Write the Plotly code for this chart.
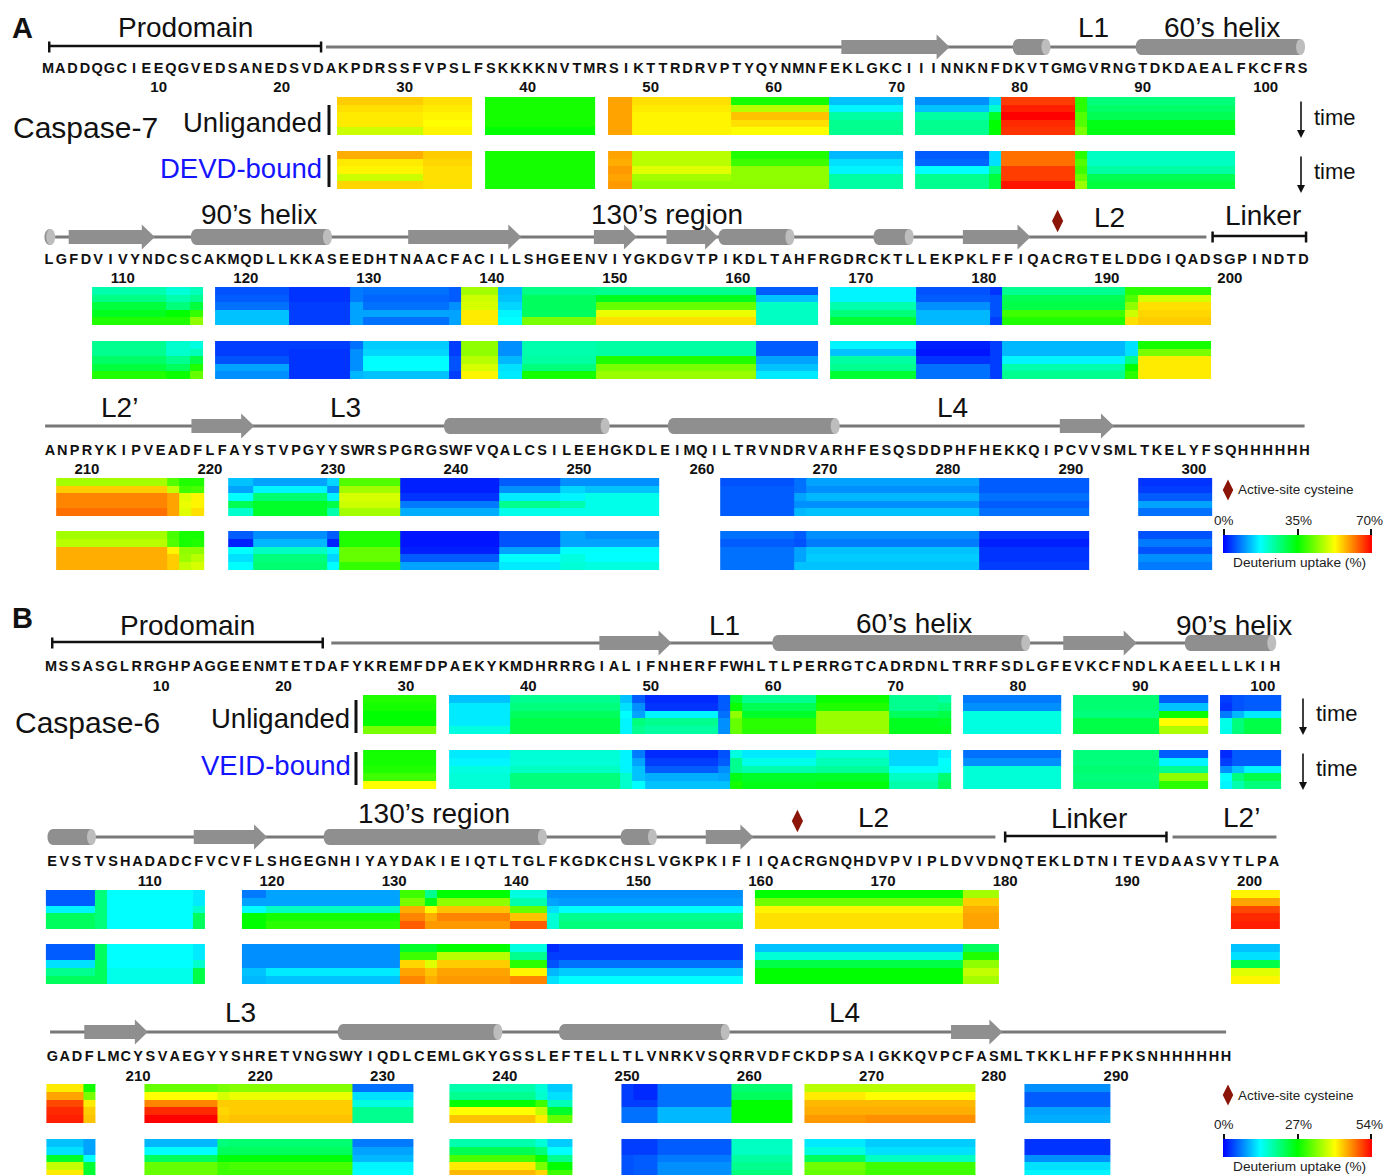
import plotly.graph_objects as go

W, H = 1384, 1175

# ---- Sequences (each row of the figure) ----
A1_SEQ = "MADDQGCIEEQGVEDSANEDSVDAKPDRSSFVPSLFSKKKKNVTMRSIKTTRDRVPTYQYNMNFEKLGKCIIINNKNFDKVTGMGVRNGTDKDAEALFKCFRS"
A2_SEQ = "LGFDVIVYNDCSCAKMQDLLKKASEEDHTNAACFACILLSHGEENVIYGKDGVTPIKDLTAHFRGDRCKTLLEKPKLFFIQACRGTELDDGIQADSGPINDTD"
A3_SEQ = "ANPRYKIPVEADFLFAYSTVPGYYSWRSPGRGSWFVQALCSILEEHGKDLEIMQILTRVNDRVARHFESQSDDPHFHEKKQIPCVVSMLTKELYFSQHHHHHH"
B1_SEQ = "MSSASGLRRGHPAGGEENMTETDAFYKREMFDPAEKYKMDHRRRGIALIFNHERFFWHLTLPERRGTCADRDNLTRRFSDLGFEVKCFNDLKAEELLLKIH"
B2_SEQ = "EVSTVSHADADCFVCVFLSHGEGNHIYAYDAKIEIQTLTGLFKGDKCHSLVGKPKIFIIQACRGNQHDVPVIPLDVVDNQTEKLDTNITEVDAASVYTLPA"
B3_SEQ = "GADFLMCYSVAEGYYSHRETVNGSWYIQDLCEMLGKYGSSLEFTELLTLVNRKVSQRRVDFCKDPSAIGKKQVPCFASMLTKKLHFFPKSNHHHHHH"

# ---- Residue tick labels ----
A1_TICKS = [10, 20, 30, 40, 50, 60, 70, 80, 90, 100]
A2_TICKS = [110, 120, 130, 140, 150, 160, 170, 180, 190, 200]
A3_TICKS = [210, 220, 230, 240, 250, 260, 270, 280, 290, 300]
B1_TICKS = [10, 20, 30, 40, 50, 60, 70, 80, 90, 100]
B2_TICKS = [110, 120, 130, 140, 150, 160, 170, 180, 190, 200]
B3_TICKS = [210, 220, 230, 240, 250, 260, 270, 280, 290]

# ---- Secondary structure (residue ranges) ----
A1_LINES = [(23.6, 89.5)]
A1_STRANDS = [(65.5, 74.3)]
A1_HELICES = [(79.4, 82.5), (89.4, 103.2)]
A2_LINES = [(104.5, 198.1)]
A2_STRANDS = [(105.6, 112.6), (133.2, 142.4), (148.3, 151.8), (154.2, 158.4), (178.3, 183.8)]
A2_HELICES = [(103.6, 104.5), (115.5, 127.0), (158.4, 164.6), (171.0, 174.3)]
A3_LINES = [(206.6, 309.0)]
A3_STRANDS = [(218.5, 223.6), (289.1, 293.5)]
A3_HELICES = [(239.0, 252.5), (257.2, 271.2)]
B1_LINES = [(23.9, 95.0)]
B1_STRANDS = [(45.8, 51.7), (83.7, 89.7)]
B1_HELICES = [(59.9, 81.0), (93.6, 101.1)]
B2_LINES = [(104.0, 179.2), (193.7, 202.2)]
B2_STRANDS = [(113.6, 119.6), (155.5, 159.4)]
B2_HELICES = [(101.6, 105.6), (124.2, 142.5), (148.5, 151.5)]
B3_LINES = [(202.8, 299.0)]
B3_STRANDS = [(205.6, 210.8), (276.5, 280.7)]
B3_HELICES = [(226.3, 239.8), (244.4, 258.4)]

A1_BRACKETS = [(1.1, 23.2)]
A2_BRACKETS = [(198.6, 206.2)]
A3_BRACKETS = []
B1_BRACKETS = [(1.1, 23.2)]
B2_BRACKETS = [(180.0, 193.2)]
B3_BRACKETS = []
A2_CYS = [186]
B2_CYS = [163]

# ---- Deuterium uptake, as % of the panel's scale maximum ----
# Peptide boundaries (residues); each inner list is one contiguous block.
A1_EDGES = [[24.5, 31.5, 35.5], [36.5, 45.5], [46.5, 48.5, 56.5, 64.5, 70.5],
            [71.5, 77.5, 78.5, 84.5, 85.5, 97.5]]
A1_UNLIGANDED = [
    [80, 78, 52, 84, 78, 52, 19, 14, 21, 94, 54, 38],
    [78, 77, 52, 84, 77, 68, 24, 19, 30, 97, 54, 40],
    [77, 76, 52, 84, 76, 81, 34, 34, 46, 100, 58, 42],
    [77, 75, 52, 84, 76, 78, 36, 36, 50, 96, 58, 48],
    [70, 76, 50, 84, 76, 75, 36, 36, 50, 95, 62, 48],
]
A1_DEVD = [
    [83, 80, 52, 84, 68, 53, 18, 9, 22, 89, 54, 31],
    [77, 79, 52, 83, 68, 56, 22, 10, 22, 89, 58, 31],
    [76, 78, 52, 85, 72, 64, 24, 25, 36, 94, 56, 34],
    [70, 78, 52, 84, 66, 64, 34, 36, 44, 94, 60, 42],
    [79, 78, 52, 85, 64, 64, 34, 36, 44, 98, 65, 44],
]
A2_EDGES = [[107.5, 113.5, 115.5, 116.5],
            [117.5, 123.5, 128.5, 129.5, 136.5, 137.5, 140.5, 142.5, 148.5, 161.5, 166.5],
            [167.5, 174.5, 180.5, 181.5, 191.5, 192.5, 198.5]]
A2_UNLIGANDED = [
    [33, 29, 32, 8, 5, 12, 11, 9, 66, 18, 37, 36, 9, 24, 8, 5, 36, 54, 54],
    [37, 33, 36, 9, 5, 12, 10, 9, 70, 19, 41, 47, 19, 24, 9, 8, 42, 58, 71],
    [44, 38, 44, 11, 6, 16, 11, 14, 71, 21, 41, 60, 31, 33, 14, 8, 43, 64, 78],
    [47, 50, 55, 19, 6, 16, 16, 16, 77, 24, 41, 73, 31, 38, 18, 8, 56, 70, 79],
    [53, 53, 64, 19, 6, 16, 11, 16, 77, 25, 62, 78, 31, 45, 18, 6, 53, 78, 80],
]
A2_DEVD = [
    [36, 30, 28, 6, 6, 11, 20, 6, 64, 14, 33, 34, 9, 24, 3, 6, 18, 22, 52],
    [36, 30, 32, 6, 5, 14, 21, 6, 64, 14, 33, 34, 9, 19, 2, 6, 18, 22, 62],
    [40, 36, 43, 8, 5, 14, 25, 8, 68, 18, 34, 53, 16, 34, 5, 6, 24, 37, 77],
    [44, 41, 53, 16, 5, 14, 25, 8, 71, 22, 38, 62, 19, 36, 11, 6, 33, 50, 77],
    [53, 51, 60, 14, 5, 18, 19, 6, 76, 23, 52, 65, 23, 45, 11, 6, 36, 54, 77],
]
A3_EDGES = [[207.5, 216.5, 217.5, 218.5, 219.5],
            [221.5, 223.5, 229.5, 230.5, 235.5, 243.5, 248.5, 250.5, 256.5],
            [261.5, 267.5, 268.5, 282.5, 291.5], [295.5, 301.5]]
A3_UNLIGANDED = [
    [66, 58, 53, 53, 19, 16, 21, 58, 3, 9, 14, 14, 8, 11, 16, 9, 5],
    [80, 69, 56, 57, 16, 24, 14, 66, 3, 14, 21, 19, 9, 11, 14, 9, 6],
    [87, 84, 72, 76, 25, 39, 24, 71, 5, 23, 24, 27, 9, 16, 18, 11, 9],
    [87, 84, 73, 76, 42, 46, 43, 70, 12, 36, 33, 27, 9, 14, 14, 9, 16],
    [89, 84, 72, 78, 30, 46, 33, 66, 17, 27, 27, 27, 9, 18, 19, 11, 11],
]
A3_DEVD = [
    [66, 57, 52, 52, 9, 14, 9, 53, 2, 8, 16, 14, 11, 9, 14, 5, 8],
    [68, 58, 52, 53, 3, 18, 3, 53, 2, 8, 16, 16, 9, 8, 12, 3, 12],
    [83, 76, 64, 64, 25, 31, 24, 60, 3, 16, 25, 25, 11, 16, 19, 5, 8],
    [83, 80, 65, 68, 22, 38, 21, 60, 9, 25, 28, 25, 11, 16, 20, 5, 14],
    [83, 80, 69, 71, 25, 39, 25, 55, 16, 23, 29, 28, 11, 19, 19, 6, 12],
]
B1_EDGES = [[26.5, 32.5],
            [33.5, 38.5, 47.5, 48.5, 49.5, 55.5, 56.5, 57.5, 63.5, 69.5, 73.5, 74.5],
            [75.5, 83.5], [84.5, 91.5, 95.5], [96.5, 97.5, 98.5, 101.5]]
B1_UNLIGANDED = [
    [53, 19, 36, 19, 9, 4, 9, 45, 36, 51, 36, 34, 12, 39, 9, 6, 8, 9],
    [52, 23, 38, 22, 14, 5, 9, 51, 42, 53, 36, 38, 14, 39, 19, 5, 8, 9],
    [50, 23, 41, 25, 16, 24, 11, 64, 46, 65, 41, 43, 28, 38, 51, 12, 18, 23],
    [50, 23, 43, 24, 38, 36, 14, 60, 54, 65, 47, 46, 28, 43, 75, 27, 38, 43],
    [62, 28, 43, 24, 36, 34, 14, 60, 54, 65, 47, 47, 28, 43, 67, 27, 38, 43],
]
B1_VEID = [
    [52, 23, 29, 24, 12, 4, 8, 28, 23, 29, 21, 23, 11, 38, 9, 4, 9, 9],
    [52, 24, 29, 24, 16, 6, 9, 36, 27, 32, 21, 25, 14, 38, 24, 6, 9, 9],
    [53, 28, 31, 24, 19, 9, 14, 36, 33, 35, 25, 26, 29, 39, 36, 14, 19, 24],
    [56, 29, 38, 30, 19, 17, 16, 48, 46, 46, 31, 39, 29, 38, 64, 25, 38, 43],
    [75, 29, 38, 30, 25, 19, 19, 52, 48, 49, 33, 41, 29, 39, 54, 24, 33, 38],
]
B2_EDGES = [[101.5, 105.5, 106.5, 113.5, 114.5],
            [117.5, 119.5, 130.5, 132.5, 133.5, 139.5, 142.5, 143.5, 158.5],
            [159.5, 176.5, 179.5], [198.5, 202.5]]
B2_UNLIGANDED = [
    [9, 38, 25, 23, 12, 16, 56, 36, 50, 28, 14, 14, 50, 66, 76],
    [9, 38, 25, 23, 16, 16, 62, 48, 64, 33, 16, 15, 61, 80, 84],
    [24, 38, 25, 30, 25, 31, 83, 76, 81, 60, 22, 25, 76, 83, 93],
    [41, 38, 25, 41, 50, 52, 87, 83, 87, 81, 29, 36, 78, 84, 96],
    [41, 38, 25, 41, 50, 54, 91, 85, 85, 91, 29, 38, 78, 84, 97],
]
B2_VEID = [
    [9, 41, 25, 23, 14, 14, 46, 46, 50, 28, 4, 6, 19, 41, 19],
    [9, 41, 25, 23, 14, 14, 56, 56, 68, 36, 6, 6, 29, 53, 22],
    [22, 41, 25, 30, 14, 14, 79, 72, 80, 54, 8, 11, 43, 64, 43],
    [36, 41, 27, 43, 19, 23, 84, 81, 84, 76, 18, 20, 50, 69, 72],
    [41, 41, 27, 43, 18, 19, 87, 83, 85, 87, 22, 25, 50, 66, 76],
]
B3_EDGES = [[202.5, 205.5, 206.5], [210.5, 216.5, 217.5, 227.5, 232.5],
            [235.5, 242.5, 243.5, 245.5], [249.5, 250.5, 252.5, 258.5, 263.5],
            [264.5, 269.5, 278.5], [282.5, 289.5]]
B3_UNLIGANDED = [
    [77, 52, 60, 62, 63, 11, 33, 29, 20, 6, 4, 11, 39, 68, 68, 14],
    [84, 62, 75, 71, 73, 22, 36, 30, 22, 6, 4, 11, 41, 77, 75, 9],
    [93, 77, 87, 80, 80, 28, 50, 56, 32, 6, 6, 11, 50, 82, 82, 9],
    [96, 80, 96, 79, 80, 36, 75, 69, 46, 11, 11, 18, 50, 83, 83, 16],
    [97, 81, 100, 80, 81, 36, 81, 77, 60, 11, 11, 18, 50, 85, 86, 17],
]
B3_VEID = [
    [19, 16, 18, 38, 39, 12, 33, 29, 20, 6, 6, 9, 31, 23, 20, 5],
    [22, 16, 25, 41, 41, 16, 42, 38, 25, 6, 6, 9, 31, 28, 22, 5],
    [46, 25, 41, 49, 49, 18, 57, 51, 36, 8, 9, 12, 34, 41, 31, 14],
    [69, 45, 60, 56, 57, 24, 77, 62, 50, 8, 9, 14, 36, 61, 56, 22],
    [77, 45, 60, 56, 56, 25, 82, 79, 56, 8, 9, 14, 38, 60, 56, 24],
]

RAINBOW = [[0, "#0000ff"], [0.25, "#00ffff"], [0.5, "#00ff00"], [0.75, "#ffff00"], [1, "#ff0000"]]
GREY, CAP = "#8f8f8f", "#bdbdbd"
FONT = "Liberation Sans"

# ---- Page layout (pixels) ----
ROWS = [
    dict(seq=A1_SEQ, ticks=A1_TICKS, first=1, ref=48, pitch=12.3, line=47, letter=69, tick=87,
         lines=A1_LINES, strands=A1_STRANDS, helices=A1_HELICES, brackets=A1_BRACKETS, cys=[],
         edges=A1_EDGES, strips=[(A1_UNLIGANDED, 97, 135), (A1_DEVD, 151, 189)]),
    dict(seq=A2_SEQ, ticks=A2_TICKS, first=104, ref=49, pitch=12.3, line=237, letter=260, tick=278,
         lines=A2_LINES, strands=A2_STRANDS, helices=A2_HELICES, brackets=A2_BRACKETS, cys=A2_CYS,
         edges=A2_EDGES, strips=[(A2_UNLIGANDED, 287, 325), (A2_DEVD, 341, 379)]),
    dict(seq=A3_SEQ, ticks=A3_TICKS, first=207, ref=50, pitch=12.3, line=426, letter=451, tick=469,
         lines=A3_LINES, strands=A3_STRANDS, helices=A3_HELICES, brackets=A3_BRACKETS, cys=[],
         edges=A3_EDGES, strips=[(A3_UNLIGANDED, 478, 516), (A3_DEVD, 531, 570)]),
    dict(seq=B1_SEQ, ticks=B1_TICKS, first=1, ref=51, pitch=12.24, line=643, letter=667, tick=686,
         lines=B1_LINES, strands=B1_STRANDS, helices=B1_HELICES, brackets=B1_BRACKETS, cys=[],
         edges=B1_EDGES, strips=[(B1_UNLIGANDED, 695, 734), (B1_VEID, 750, 789)]),
    dict(seq=B2_SEQ, ticks=B2_TICKS, first=102, ref=52, pitch=12.22, line=837, letter=862, tick=881,
         lines=B2_LINES, strands=B2_STRANDS, helices=B2_HELICES, brackets=B2_BRACKETS, cys=B2_CYS,
         edges=B2_EDGES, strips=[(B2_UNLIGANDED, 890, 929), (B2_VEID, 944, 984)]),
    dict(seq=B3_SEQ, ticks=B3_TICKS, first=203, ref=52.5, pitch=12.225, line=1032, letter=1057, tick=1076,
         lines=B3_LINES, strands=B3_STRANDS, helices=B3_HELICES, brackets=B3_BRACKETS, cys=[],
         edges=B3_EDGES, strips=[(B3_UNLIGANDED, 1084, 1123), (B3_VEID, 1139, 1178)]),
]


def frac_y(py):
    return 1 - py / H


def flatten(blocks, rows):
    """Join blocks into a single edge list, with empty columns for the gaps."""
    edges = []
    for b in blocks:
        edges += b
    out = []
    for row in rows:
        vals, i = [], 0
        for b in blocks:
            n = len(b) - 1
            vals += row[i:i + n] + [None]
            i += n
        if i != len(row):
            raise ValueError(f"column count {len(row)} != {i}")
        out.append(vals[:-1])
    return edges, out


fig = go.Figure()
layout = {}
shapes = []
yn = 0

for idx, r in enumerate(ROWS):
    xn = idx + 1
    xname = "x" if xn == 1 else f"x{xn}"
    xkey = "xaxis" if xn == 1 else f"xaxis{xn}"
    r0 = r["first"] - r["ref"] / r["pitch"]
    r1 = r["first"] + (W - r["ref"]) / r["pitch"]
    layout[xkey] = dict(domain=[0, 1], range=[r0, r1], anchor="free", position=frac_y(r["tick"] - 11),
                        showgrid=False, zeroline=False, showline=False, ticks="",
                        tickmode="array", tickvals=r["ticks"], ticktext=[str(t) for t in r["ticks"]],
                        tickfont=dict(family=FONT, size=15, color="#111", weight="bold"), fixedrange=True)

    # track axis: y is a pixel offset from the backbone
    yn += 1
    yname = "y" if yn == 1 else f"y{yn}"
    ykey = "yaxis" if yn == 1 else f"yaxis{yn}"
    up, down = 40, 100
    layout[ykey] = dict(domain=[frac_y(r["line"] + down), frac_y(r["line"] - up)], range=[down, -up],
                        visible=False, anchor=xname, fixedrange=True)

    for s, e in r["lines"]:
        fig.add_trace(go.Scatter(x=[s, e], y=[0, 0], xaxis=xname, yaxis=yname, mode="lines",
                                 line=dict(color="#787878", width=3), hoverinfo="skip", showlegend=False))
    for s, e in r["brackets"]:
        fig.add_trace(go.Scatter(x=[s, s, None, s, e, None, e, e], y=[-5.5, 5.5, None, -1, -1, None, -5.5, 5.5],
                                 xaxis=xname, yaxis=yname, mode="lines",
                                 line=dict(color="#111", width=2.5), hoverinfo="skip", showlegend=False))
    head = 13 / r["pitch"]
    for s, e in r["strands"]:
        p = f"M {s},-7 L {e - head},-7 L {e - head},-12.5 L {e},0 L {e - head},12.5 L {e - head},7 L {s},7 Z"
        shapes.append(dict(type="path", path=p, xref=xname, yref=yname, fillcolor=GREY, line=dict(width=0)))
    round_x, cap_x = 6 / r["pitch"], 4.5 / r["pitch"]
    for s, e in r["helices"]:
        a, b = s + round_x, e - cap_x
        p = (f"M {a},-8 L {b},-8 L {b},8 L {a},8 "
             f"C {s - round_x * 0.25},8 {s - round_x * 0.25},-8 {a},-8 Z")
        shapes.append(dict(type="path", path=p, xref=xname, yref=yname, fillcolor=GREY, line=dict(width=0)))
        shapes.append(dict(type="circle", xref=xname, yref=yname, x0=b - cap_x, x1=b + cap_x, y0=-8, y1=8,
                           fillcolor=CAP, line=dict(width=0)))
    if r["cys"]:
        fig.add_trace(go.Scatter(x=r["cys"], y=[-16] * len(r["cys"]), xaxis=xname, yaxis=yname, mode="markers",
                                 marker=dict(symbol="diamond-tall", size=16, color="#8b1508"),
                                 hoverinfo="skip", showlegend=False))
    letters = list(r["seq"])
    fig.add_trace(go.Scatter(x=[r["first"] + i for i in range(len(letters))],
                             y=[r["letter"] - r["line"]] * len(letters),
                             text=letters, xaxis=xname, yaxis=yname, mode="text",
                             textposition="middle center",
                             textfont=dict(family=FONT, size=14.5, color="#111", weight="bold"),
                             hoverinfo="skip", showlegend=False))

    for rows, top, bot in r["strips"]:
        yn += 1
        yname2 = f"y{yn}"
        ykey2 = f"yaxis{yn}"
        n = len(rows)
        vis_bot = min(bot, H)
        rng_bot = -0.5 + n * (vis_bot - top) / (bot - top)
        layout[ykey2] = dict(domain=[frac_y(vis_bot), frac_y(top)], range=[rng_bot, -0.5],
                             visible=False, anchor=xname, fixedrange=True)
        edges, z = flatten(r["edges"], rows)
        fig.add_trace(go.Heatmap(x=edges, y=list(range(n)), z=z, xaxis=xname, yaxis=yname2,
                                 colorscale=RAINBOW, zmin=0, zmax=100, showscale=False, hoverongaps=False))

# ---- Colour bars: carried by copies of the first strip of each panel ----
for strip, yb in [(0, 553), (3, 1157)]:
    r = ROWS[strip]
    edges, z = flatten(r["edges"], r["strips"][0][0])
    xname = "x" if strip == 0 else f"x{strip + 1}"
    yname = "y2" if strip == 0 else "y11"
    fig.add_trace(go.Heatmap(
        x=edges, y=list(range(5)), z=z, xaxis=xname, yaxis=yname, colorscale=RAINBOW, zmin=0, zmax=100,
        hoverongaps=False,
        colorbar=dict(orientation="h", x=1223 / W, xanchor="left", y=frac_y(yb), yanchor="bottom",
                      len=149, lenmode="pixels", thickness=18, thicknessmode="pixels", xpad=0, ypad=0,
                      outlinewidth=0, showticklabels=False, ticks="", bgcolor="rgba(0,0,0,0)")))

# ---- Legend diamonds (on the track axes of rows 3 and 6) ----
for row_i, yname, py in [(2, "y7", 490), (5, "y16", 1095)]:
    r = ROWS[row_i]
    fig.add_trace(go.Scatter(x=[r["first"] + (1228 - r["ref"]) / r["pitch"]], y=[py - r["line"]],
                             xaxis=f"x{row_i + 1}", yaxis=yname, mode="markers",
                             marker=dict(symbol="diamond-tall", size=15, color="#8b1508"),
                             hoverinfo="skip", showlegend=False))

# ---- Text ----
LABELS = [
    ("Prodomain", 185, 28, 28, "#111"), ("L1", 1093, 28, 28, "#111"), ("60’s helix", 1222, 27, 28, "#111"),
    ("Caspase-7", 85, 128, 30, "#111"), ("Unliganded", 252, 122, 27.5, "#111"), ("DEVD-bound", 241, 168, 27.5, "#1414ff"),
    ("90’s helix", 259, 214, 28, "#111"), ("130’s region", 667, 214, 28, "#111"), ("L2", 1109, 218, 28, "#111"),
    ("Linker", 1263, 216, 28, "#111"), ("L2’", 119, 408, 28, "#111"), ("L3", 345, 408, 28, "#111"), ("L4", 952, 408, 28, "#111"),
    ("Prodomain", 188, 625, 28, "#111"), ("L1", 724, 625, 28, "#111"), ("60’s helix", 914, 623, 28, "#111"),
    ("90’s helix", 1234, 625, 28, "#111"), ("Caspase-6", 87, 722, 30, "#111"), ("Unliganded", 280, 719, 27.5, "#111"),
    ("VEID-bound", 276, 765, 27.5, "#1414ff"), ("130’s region", 434, 813, 28, "#111"), ("L2", 873, 817, 28, "#111"),
    ("Linker", 1089, 818, 28, "#111"), ("L2’", 1241, 817, 28, "#111"), ("L3", 240, 1012, 28, "#111"), ("L4", 844, 1012, 28, "#111"),
    ("time", 1335, 117, 22, "#111"), ("time", 1335, 172, 22, "#111"), ("time", 1337, 713, 22, "#111"), ("time", 1337, 768, 22, "#111"),
    ("Active-site cysteine", 1295.5, 490, 13.5, "#222"), ("Active-site cysteine", 1295.5, 1095, 13.5, "#222"),
    ("Deuterium uptake (%)", 1299, 562, 13.7, "#222"), ("Deuterium uptake (%)", 1299, 1166, 13.7, "#222"),
    ("0%", 1224, 520, 13.5, "#222"), ("35%", 1298, 520, 13.5, "#222"), ("70%", 1369, 520, 13.5, "#222"),
    ("0%", 1224, 1124, 13.5, "#222"), ("27%", 1298, 1124, 13.5, "#222"), ("54%", 1369, 1124, 13.5, "#222"),
    ("<b>A</b>", 23, 28, 29, "#111"), ("<b>B</b>", 23, 618, 29, "#111"),
]
annotations = [dict(text=t, x=x / W, y=frac_y(y), xref="paper", yref="paper", showarrow=False,
                    xanchor="center", yanchor="middle", font=dict(family=FONT, size=s, color=c))
               for t, x, y, s, c in LABELS]
for x, y0, y1 in [(1301, 100, 138), (1301, 155, 193), (1303, 697, 735), (1303, 752, 790)]:
    annotations.append(dict(text="", x=x / W, y=frac_y(y1), xref="paper", yref="paper", ax=0, ay=y0 - y1,
                            axref="pixel", ayref="pixel", showarrow=True, arrowhead=2, arrowsize=1,
                            arrowwidth=1.6, arrowcolor="#111"))
for x, y0, y1 in [(329, 105, 135), (329, 155, 187), (356, 700, 733), (356, 752, 785),
                  (1224, 529, 535), (1298, 529, 535), (1371, 529, 535),
                  (1224, 1134, 1140), (1298, 1134, 1140), (1371, 1134, 1140)]:
    shapes.append(dict(type="line", xref="paper", yref="paper", x0=x / W, x1=x / W, y0=frac_y(y0), y1=frac_y(y1),
                       line=dict(color="#111", width=3 if y1 - y0 > 10 else 2)))

fig.update_layout(width=W, height=H, margin=dict(l=0, r=0, t=0, b=0), paper_bgcolor="white",
                  plot_bgcolor="rgba(0,0,0,0)", showlegend=False, shapes=shapes, annotations=annotations, **layout)
fig.write_html("out.html", config=dict(displayModeBar=False), post_script="document.body.style.margin='0';")
